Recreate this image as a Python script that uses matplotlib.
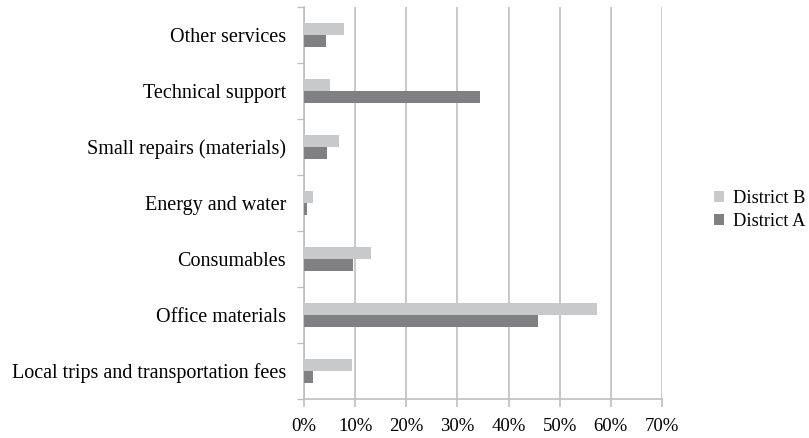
import numpy as np
import matplotlib
matplotlib.use("Agg")
import matplotlib.pyplot as plt
from matplotlib.ticker import PercentFormatter, FixedLocator

# categories (bottom to top) and shares in %
categories = ["Local trips and transportation fees", "Office materials", "Consumables",
              "Energy and water", "Small repairs (materials)", "Technical support",
              "Other services"]
district_a = [1.8, 45.7, 9.6, 0.6, 4.5, 34.4, 4.3]
district_b = [9.4, 57.2, 13.1, 1.8, 6.8, 5.1, 7.8]
x_ticks = [0, 10, 20, 30, 40, 50, 60, 70]

plt.rcParams['font.family'] = ['Liberation Serif', 'DejaVu Serif']

col_a = '#808083'
col_b = '#c8c9cb'
grid_col = '#bfbfbf'

fig = plt.figure(figsize=(8.09, 4.38), dpi=100)
ax = fig.add_axes([304 / 809, 1 - 399 / 438, 358 / 809, 392 / 438])

y = np.arange(len(categories))
h = 0.21
ax.barh(y - h / 2, district_a, height=h, color=col_a, label='District A', zorder=3)
ax.barh(y + h / 2, district_b, height=h, color=col_b, label='District B', zorder=3)

ax.set_xlim(0, 70)
ax.set_ylim(-0.5, len(categories) - 0.5)
ax.set_xticks(x_ticks)
ax.xaxis.set_major_formatter(PercentFormatter(decimals=0))
ax.grid(axis='x', color=grid_col, linewidth=1.2, zorder=0)

ax.set_yticks(y)
ax.set_yticklabels(categories)
ax.yaxis.set_minor_locator(FixedLocator(np.arange(-0.5, len(categories), 1)))
ax.tick_params(axis='y', which='major', length=0, pad=13, labelsize=14.5)
ax.tick_params(axis='y', which='minor', length=5, color=grid_col, width=1)
ax.tick_params(axis='x', length=6, color=grid_col, width=1.2, pad=8, labelsize=13.5)

for s in ['top', 'right']:
    ax.spines[s].set_visible(False)
for s in ['left', 'bottom']:
    ax.spines[s].set_color(grid_col)
    ax.spines[s].set_linewidth(1.2)

handles, labels = ax.get_legend_handles_labels()
fig.legend(handles[::-1], labels[::-1], loc='center left', bbox_to_anchor=(697 / 809, 1 - 210 / 438),
           frameon=False, fontsize=13.2, handlelength=0.55, handleheight=0.55,
           handletextpad=0.5, labelspacing=0.3)

fig.savefig('out.png', dpi=100)
